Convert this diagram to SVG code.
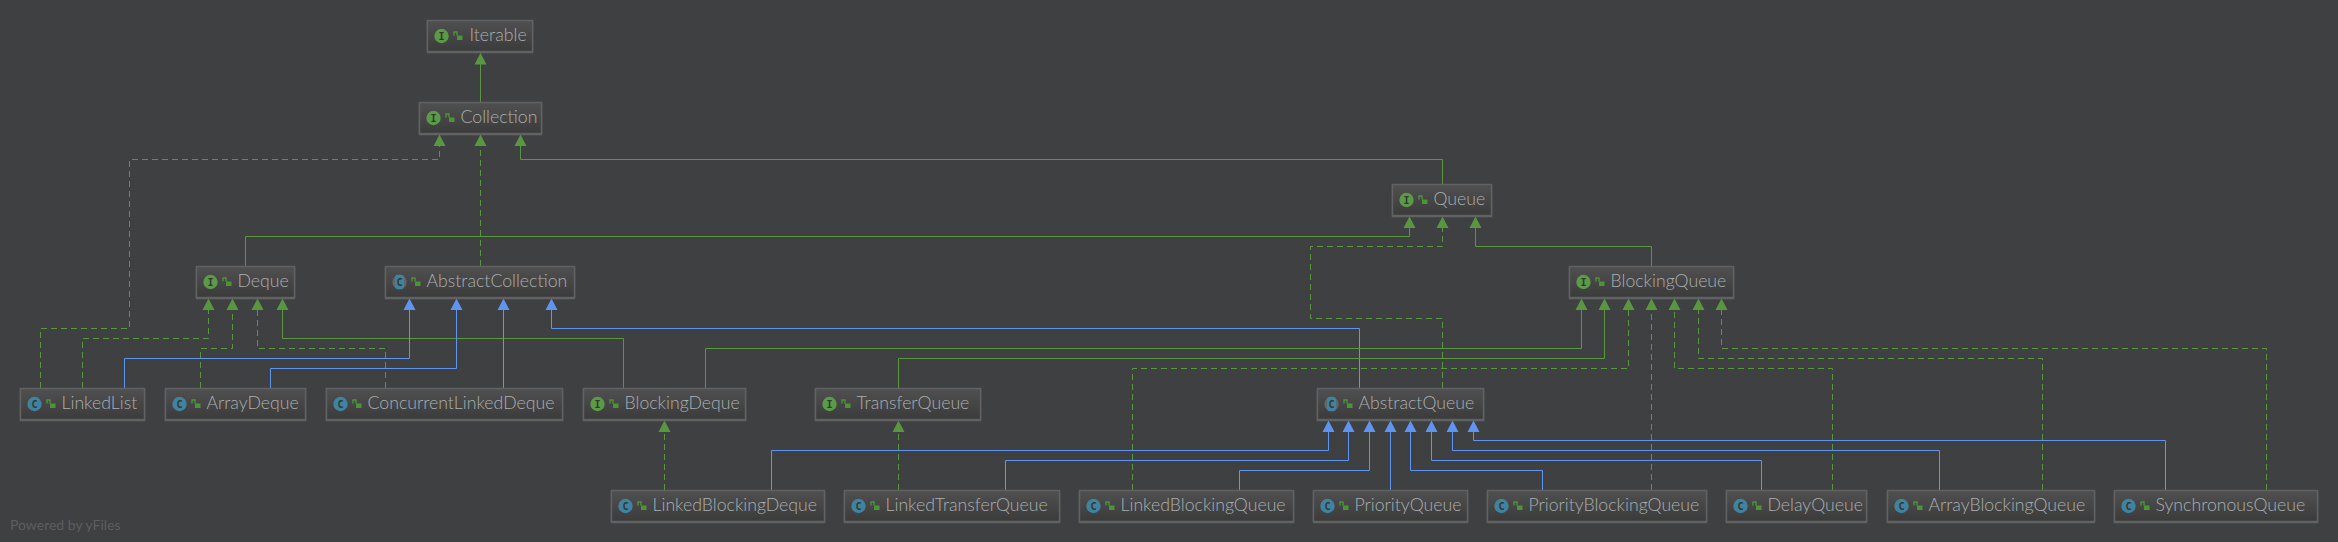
<svg xmlns="http://www.w3.org/2000/svg" xmlns:xlink="http://www.w3.org/1999/xlink" width="2338" height="542" viewBox="0 0 2338 542">
<style>
.b{fill:url(#g);stroke:#5f6162;stroke-width:1.5;filter:drop-shadow(0 1px 0 #626465)}
.t{font:300 17.7px Lato,"Liberation Sans",sans-serif;fill:#a9afb2}
.ic{font:bold 10px "DejaVu Sans Mono","Liberation Mono",monospace;fill:#2f3a2f;text-anchor:middle}
.e{fill:none;stroke-width:1}
.gs{stroke:#58973f}.gd{stroke:#58973f;stroke-dasharray:6 4}.bs{stroke:#5f94f0}
.i{fill:#5b9a47}.c{fill:#40829f}.a{fill:#5e676b}
.l{fill:none;stroke:#4c9436;stroke-width:1.4}
.lb{fill:#4c9436}
</style>
<defs>
<linearGradient id="g" x1="0" y1="0" x2="0" y2="1"><stop offset="0" stop-color="#505050"/><stop offset="1" stop-color="#3b3b3b"/></linearGradient>
<g id="lk"><path class="l" d="M-3.500 -1V-4.500H-0.500V-1"/><rect class="lb" x="-0.500" y="-1" width="5.500" height="4.500"/></g>
</defs>
<rect width="2338" height="542" fill="#3f4042"/>
<text x="10" y="530" style="font:14px Lato,'Liberation Sans',sans-serif;fill:#5c5e60">Powered by yFiles</text>
<g id="connectors">
<path class="e gs" d="M480.500 102V53"/>
<path class="e gd" d="M40.500 388V328.500H129.500V159.500H439.500V135"/>
<path class="e gd" d="M480.500 266V135"/>
<path class="e gs" d="M1442.500 184V159.500H520.500V135"/>
<path class="e gs" d="M245.500 266V236.500H1409.500V217"/>
<path class="e gd" d="M1442.500 388V318.500H1310.500V246.500H1442.500V217"/>
<path class="e gs" d="M1651.500 266V246.500H1475.500V217"/>
<path class="e gd" d="M82.500 388V338.500H208.500V299"/>
<path class="e gd" d="M200.500 388V348.500H232.500V299"/>
<path class="e gd" d="M385.500 388V348.500H257.500V299"/>
<path class="e gs" d="M623.500 388V338.500H282.500V299"/>
<path class="e bs" d="M124.500 388V358.500H409.500V299"/>
<path class="e bs" d="M270.500 388V368.500H456.500V299"/>
<path class="e bs" d="M503.500 388V299"/>
<path class="e bs" d="M1359.500 388V328.500H551.500V299"/>
<path class="e gs" d="M705.500 388V348.500H1581.500V299"/>
<path class="e gs" d="M898.500 388V358.500H1604.500V299"/>
<path class="e gd" d="M1132.500 490V368.500H1628.500V299"/>
<path class="e gd" d="M1651.500 490V299"/>
<path class="e gd" d="M1832.500 490V368.500H1674.500V299"/>
<path class="e gd" d="M2042.500 490V358.500H1698.500V299"/>
<path class="e gd" d="M2266.500 490V348.500H1721.500V299"/>
<path class="e gd" d="M664.500 490V421"/>
<path class="e gd" d="M898.500 490V421"/>
<path class="e bs" d="M771.500 490V450.500H1328.500V421"/>
<path class="e bs" d="M1005.500 490V460.500H1348.500V421"/>
<path class="e bs" d="M1239.500 490V470.500H1369.500V421"/>
<path class="e bs" d="M1390.500 490V421"/>
<path class="e bs" d="M1542.500 490V470.500H1410.500V421"/>
<path class="e bs" d="M1761.500 490V460.500H1431.500V421"/>
<path class="e bs" d="M1939.500 490V450.500H1452.500V421"/>
<path class="e bs" d="M2165.500 490V440.500H1473.500V421"/>
</g>
<g id="arrowheads" fill="#58973f">
<path d="M480.500 53l6 11.500h-12z"/>
<path d="M439.500 134.500l6 11.500h-12zM480.500 134.500l6 11.500h-12zM520.500 134.500l6 11.500h-12z"/>
<path d="M1409.500 216.500l6 11.500h-12zM1442.500 216.500l6 11.500h-12zM1475.500 216.500l6 11.500h-12z"/>
<path d="M208.500 298.500l6 11.500h-12zM232.500 298.500l6 11.500h-12zM257.500 298.500l6 11.500h-12zM282.500 298.500l6 11.500h-12z"/>
<path d="M1581.500 298.500l6 11.500h-12zM1604.500 298.500l6 11.500h-12zM1628.500 298.500l6 11.500h-12zM1651.500 298.500l6 11.500h-12zM1674.500 298.500l6 11.500h-12zM1698.500 298.500l6 11.500h-12zM1721.500 298.500l6 11.500h-12z"/>
<path d="M664.500 420.500l6 11.500h-12zM898.500 420.500l6 11.500h-12z"/>
<g fill="#5f94f0"><path d="M409.500 298.500l6 11.500h-12zM456.500 298.500l6 11.500h-12zM503.500 298.500l6 11.500h-12zM551.500 298.500l6 11.500h-12z"/>
<path d="M1328.500 420.500l6 11.500h-12zM1348.500 420.500l6 11.500h-12zM1369.500 420.500l6 11.500h-12zM1390.500 420.500l6 11.500h-12zM1410.500 420.500l6 11.500h-12zM1431.500 420.500l6 11.500h-12zM1452.500 420.500l6 11.500h-12zM1473.500 420.500l6 11.500h-12z"/></g>
</g>
<g id="Iterable" transform="translate(427.500 20.500)"><rect class="b" width="105" height="31"/><circle class="i" cx="14" cy="15.500" r="7.200"/><text class="ic" x="14" y="19">I</text><use xlink:href="#lk" x="30" y="16"/><text class="t" x="42" y="20.500">Iterable</text></g>
<g id="Collection" transform="translate(419.500 102.500)"><rect class="b" width="122" height="31"/><circle class="i" cx="14" cy="15.500" r="7.200"/><text class="ic" x="14" y="19">I</text><use xlink:href="#lk" x="30" y="16"/><text class="t" x="41" y="20.500">Collection</text></g>
<g id="Queue" transform="translate(1392.500 184.500)"><rect class="b" width="99" height="31"/><circle class="i" cx="14" cy="15.500" r="7.200"/><text class="ic" x="14" y="19">I</text><use xlink:href="#lk" x="30" y="16"/><text class="t" x="41" y="20.500">Queue</text></g>
<g id="Deque" transform="translate(196.500 266.500)"><rect class="b" width="98" height="31"/><circle class="i" cx="14" cy="15.500" r="7.200"/><text class="ic" x="14" y="19">I</text><use xlink:href="#lk" x="30" y="16"/><text class="t" x="41" y="20.500">Deque</text></g>
<g id="AbstractCollection" transform="translate(385.500 266.500)"><rect class="b" width="189" height="31"/><circle class="a" cx="14" cy="15.500" r="7.200"/><rect class="c" x="9.500" y="8.300" width="9" height="14.400" rx="3"/><text class="ic" x="14" y="19">C</text><use xlink:href="#lk" x="30" y="16"/><text class="t" x="41" y="20.500">AbstractCollection</text></g>
<g id="BlockingQueue" transform="translate(1569.500 266.500)"><rect class="b" width="164" height="31"/><circle class="i" cx="14" cy="15.500" r="7.200"/><text class="ic" x="14" y="19">I</text><use xlink:href="#lk" x="30" y="16"/><text class="t" x="41" y="20.500">BlockingQueue</text></g>
<g id="LinkedList" transform="translate(20.500 388.500)"><rect class="b" width="124" height="31"/><circle class="c" cx="14" cy="15.500" r="7.200"/><text class="ic" x="14" y="19">C</text><use xlink:href="#lk" x="30" y="16"/><text class="t" x="41" y="20.500">LinkedList</text></g>
<g id="ArrayDeque" transform="translate(165.500 388.500)"><rect class="b" width="140" height="31"/><circle class="c" cx="14" cy="15.500" r="7.200"/><text class="ic" x="14" y="19">C</text><use xlink:href="#lk" x="30" y="16"/><text class="t" x="41" y="20.500">ArrayDeque</text></g>
<g id="ConcurrentLinkedDeque" transform="translate(326.500 388.500)"><rect class="b" width="236" height="31"/><circle class="c" cx="14" cy="15.500" r="7.200"/><text class="ic" x="14" y="19">C</text><use xlink:href="#lk" x="30" y="16"/><text class="t" x="41" y="20.500">ConcurrentLinkedDeque</text></g>
<g id="BlockingDeque" transform="translate(583.500 388.500)"><rect class="b" width="162" height="31"/><circle class="i" cx="14" cy="15.500" r="7.200"/><text class="ic" x="14" y="19">I</text><use xlink:href="#lk" x="30" y="16"/><text class="t" x="41" y="20.500">BlockingDeque</text></g>
<g id="TransferQueue" transform="translate(815.500 388.500)"><rect class="b" width="165" height="31"/><circle class="i" cx="14" cy="15.500" r="7.200"/><text class="ic" x="14" y="19">I</text><use xlink:href="#lk" x="30" y="16"/><text class="t" x="41" y="20.500">TransferQueue</text></g>
<g id="AbstractQueue" transform="translate(1317.500 388.500)"><rect class="b" width="166" height="31"/><circle class="a" cx="14" cy="15.500" r="7.200"/><rect class="c" x="9.500" y="8.300" width="9" height="14.400" rx="3"/><text class="ic" x="14" y="19">C</text><use xlink:href="#lk" x="30" y="16"/><text class="t" x="41" y="20.500">AbstractQueue</text></g>
<g id="LinkedBlockingDeque" transform="translate(611.500 490.500)"><rect class="b" width="213" height="31"/><circle class="c" cx="14" cy="15.500" r="7.200"/><text class="ic" x="14" y="19">C</text><use xlink:href="#lk" x="30" y="16"/><text class="t" x="41" y="20.500">LinkedBlockingDeque</text></g>
<g id="LinkedTransferQueue" transform="translate(844.500 490.500)"><rect class="b" width="215" height="31"/><circle class="c" cx="14" cy="15.500" r="7.200"/><text class="ic" x="14" y="19">C</text><use xlink:href="#lk" x="30" y="16"/><text class="t" x="41" y="20.500">LinkedTransferQueue</text></g>
<g id="LinkedBlockingQueue" transform="translate(1079.500 490.500)"><rect class="b" width="214" height="31"/><circle class="c" cx="14" cy="15.500" r="7.200"/><text class="ic" x="14" y="19">C</text><use xlink:href="#lk" x="30" y="16"/><text class="t" x="41" y="20.500">LinkedBlockingQueue</text></g>
<g id="PriorityQueue" transform="translate(1313.500 490.500)"><rect class="b" width="154" height="31"/><circle class="c" cx="14" cy="15.500" r="7.200"/><text class="ic" x="14" y="19">C</text><use xlink:href="#lk" x="30" y="16"/><text class="t" x="41" y="20.500">PriorityQueue</text></g>
<g id="PriorityBlockingQueue" transform="translate(1487.500 490.500)"><rect class="b" width="219" height="31"/><circle class="c" cx="14" cy="15.500" r="7.200"/><text class="ic" x="14" y="19">C</text><use xlink:href="#lk" x="30" y="16"/><text class="t" x="41" y="20.500">PriorityBlockingQueue</text></g>
<g id="DelayQueue" transform="translate(1726.500 490.500)"><rect class="b" width="140" height="31"/><circle class="c" cx="14" cy="15.500" r="7.200"/><text class="ic" x="14" y="19">C</text><use xlink:href="#lk" x="30" y="16"/><text class="t" x="41" y="20.500">DelayQueue</text></g>
<g id="ArrayBlockingQueue" transform="translate(1887.500 490.500)"><rect class="b" width="207" height="31"/><circle class="c" cx="14" cy="15.500" r="7.200"/><text class="ic" x="14" y="19">C</text><use xlink:href="#lk" x="30" y="16"/><text class="t" x="41" y="20.500">ArrayBlockingQueue</text></g>
<g id="SynchronousQueue" transform="translate(2114.500 490.500)"><rect class="b" width="203" height="31"/><circle class="c" cx="14" cy="15.500" r="7.200"/><text class="ic" x="14" y="19">C</text><use xlink:href="#lk" x="30" y="16"/><text class="t" x="41" y="20.500">SynchronousQueue</text></g>
</svg>
